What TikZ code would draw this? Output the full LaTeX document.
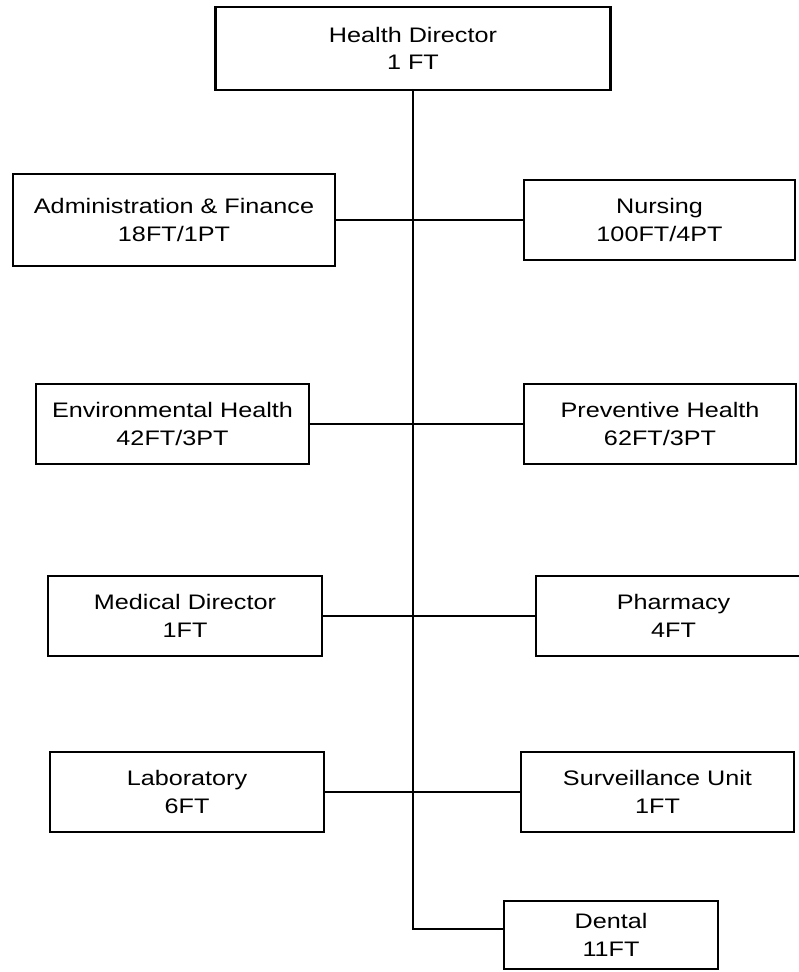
\documentclass[tikz,border=0pt]{standalone}
\usepackage{fontspec}
\setmainfont[FakeStretch=1.2]{Liberation Sans}

\tikzset{
  unit/.style={draw=black, line width=1.35pt, align=center, inner sep=0pt,
    minimum height=40pt, font=\fontsize{10.5}{13.7}\selectfont},
  trunk/.style={line width=1.3pt},
  link/.style={line width=0.9pt}
}

\begin{document}
\begin{tikzpicture}[x=0.5pt, y=-0.5pt]
  \useasboundingbox (0,0) rectangle (798,972);

  \node[unit, minimum width=197.5pt, minimum height=41.5pt] (HD) at (413,48.5) {Health Director\\1 FT};

  \node[unit, minimum width=161pt, minimum height=46pt] (ADM) at (174,220) {Administration \& Finance\\18FT/1PT};
  \node[unit, minimum width=135.5pt] (NUR) at (659.5,220) {Nursing\\100FT/4PT};

  \node[unit, minimum width=136.5pt] (ENV) at (172.5,424) {Environmental Health\\42FT/3PT};
  \node[unit, minimum width=136pt] (PRE) at (660,424) {Preventive Health\\62FT/3PT};

  \node[unit, minimum width=137pt] (MED) at (185,616) {Medical Director\\1FT};
  \node[unit, minimum width=137.5pt] (PHA) at (673.5,616) {Pharmacy\\4FT};

  \node[unit, minimum width=137pt] (LAB) at (187,792) {Laboratory\\6FT};
  \node[unit, minimum width=136.5pt] (SUR) at (657.5,792) {Surveillance Unit\\1FT};

  \node[unit, minimum width=107pt, minimum height=34pt] (DEN) at (611,935) {Dental\\11FT};

  \coordinate (bend) at (413,929);

  % trunk down to Dental
  \draw[trunk] (HD.south) -- (bend) -- (bend -| DEN.west);

  % side branches
  \draw[link] (ADM.east) -- (NUR.west);
  \draw[link] (ENV.east) -- (PRE.west);
  \draw[link] (MED.east) -- (PHA.west);
  \draw[link] (LAB.east) -- (SUR.west);
\end{tikzpicture}
\end{document}
